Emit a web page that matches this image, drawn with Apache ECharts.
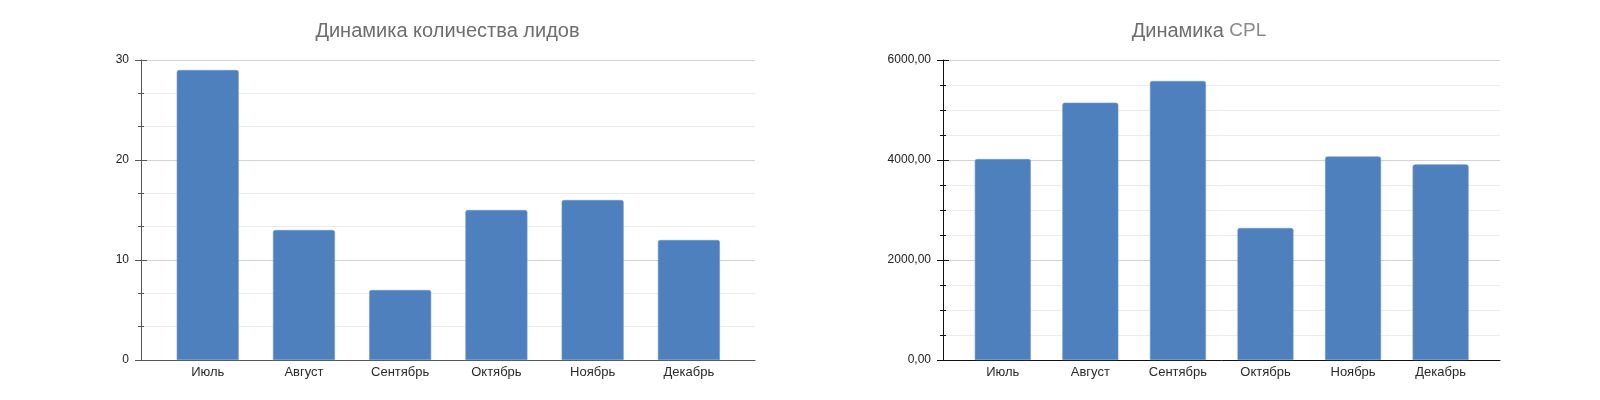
<!DOCTYPE html>
<html><head><meta charset="utf-8">
<script src="https://cdn.jsdelivr.net/npm/echarts@6/dist/echarts.min.js"></script>
<style>html,body{margin:0;padding:0;background:#fff}#c{width:1600px;height:400px}</style>
</head><body><div id="c"></div>
<script>
const months = ['Июль','Август','Сентябрь','Октябрь','Ноябрь','Декабрь'];
const leads = [29, 13, 7, 15, 16, 12];
const cpl = [4020, 5146, 5580, 2640, 4070, 3913];
const leadsTicks = {min: 0, max: 30, interval: 10};
const cplTicks = {min: 0, max: 6000, interval: 2000};
const titleLeads = 'Динамика количества лидов';
const titleCplWord = 'Динамика';
const titleCplAbbr = 'CPL';

const FONT = 'Liberation Sans';
const chart = echarts.init(document.getElementById('c'), null, {renderer: 'canvas'});

function block(idx, wide, narrow, ticks, minorSplit, values, fmt, lineColor, barW) {
  const g = idx * 3;
  const grids = [
    {left: wide[0], width: wide[1] - wide[0], top: 60, height: 300},
    {left: wide[0], width: wide[1] - wide[0], top: 60, height: 300},
    {left: narrow[0], width: narrow[1] - narrow[0], top: 60, height: 300}
  ];
  const xAxes = [
    {gridIndex: g, type: 'category', data: [''], axisLine: {show: true, lineStyle: {color: lineColor, width: 1}},
     axisTick: {show: false}, axisLabel: {show: false}, splitLine: {show: false}},
    {gridIndex: g + 1, type: 'category', data: [''], show: false},
    {gridIndex: g + 2, type: 'category', data: months, axisLine: {show: false}, axisTick: {show: false},
     axisLabel: {color: '#2a2a2a', fontFamily: FONT, fontSize: 13, margin: 6}}
  ];
  const yAxes = [
    {gridIndex: g, type: 'value', min: ticks.min, max: ticks.max, interval: ticks.interval,
     axisLine: {show: true, lineStyle: {color: lineColor}},
     axisTick: {show: true, length: 6, lineStyle: {color: lineColor}},
     minorTick: {show: true, splitNumber: minorSplit, length: 3, lineStyle: {color: lineColor}},
     splitLine: {show: true, lineStyle: {color: '#d3d3d3'}},
     minorSplitLine: {show: true, lineStyle: {color: '#ececec'}},
     axisLabel: {color: '#222', fontFamily: FONT, fontSize: 12, margin: 12, formatter: fmt}},
    {gridIndex: g + 1, type: 'value', min: ticks.min, max: ticks.max, interval: ticks.interval,
     axisLine: {show: false},
     axisTick: {show: true, inside: true, length: 6, lineStyle: {color: lineColor}},
     minorTick: {show: true, splitNumber: minorSplit, length: 3, lineStyle: {color: lineColor}},
     splitLine: {show: false}, axisLabel: {show: false}},
    {gridIndex: g + 2, type: 'value', min: ticks.min, max: ticks.max, interval: ticks.interval, show: false,
     splitLine: {show: false}}
  ];
  const series = [{
    type: 'bar', xAxisIndex: g + 2, yAxisIndex: g + 2, data: values, barWidth: barW,
    itemStyle: {color: '#4e80bd', borderRadius: [2, 2, 0, 0], borderColor: '#6f97cb', borderWidth: 0.6},
    z: 3
  }];
  return {grids, xAxes, yAxes, series};
}

const a = block(0, [141, 755], [159.6, 737], leadsTicks, 3, leads, v => String(v), '#555', 62);
const b = block(1, [943, 1500], [959, 1484.4], cplTicks, 4, cpl,
  v => v.toFixed(2).replace('.', ','), '#111', 56);

chart.setOption({
  animation: false,
  title: [
    {text: titleLeads, left: 442.5, top: 16, textAlign: 'center',
     textStyle: {color: '#6e6e6e', fontFamily: FONT, fontSize: 20, fontWeight: 'normal'}},
    {text: '{a|' + titleCplWord + '} {b|' + titleCplAbbr + '}', left: 1194, top: 16, textAlign: 'center',
     textStyle: {fontFamily: FONT, fontSize: 20, fontWeight: 'normal',
       rich: {a: {color: '#6e6e6e', fontFamily: FONT, fontSize: 20},
              b: {color: '#8a8a8a', fontFamily: FONT, fontSize: 19}}}}
  ],
  grid: a.grids.concat(b.grids),
  xAxis: a.xAxes.concat(b.xAxes),
  yAxis: a.yAxes.concat(b.yAxes),
  series: a.series.concat(b.series)
});
</script>
</body></html>
